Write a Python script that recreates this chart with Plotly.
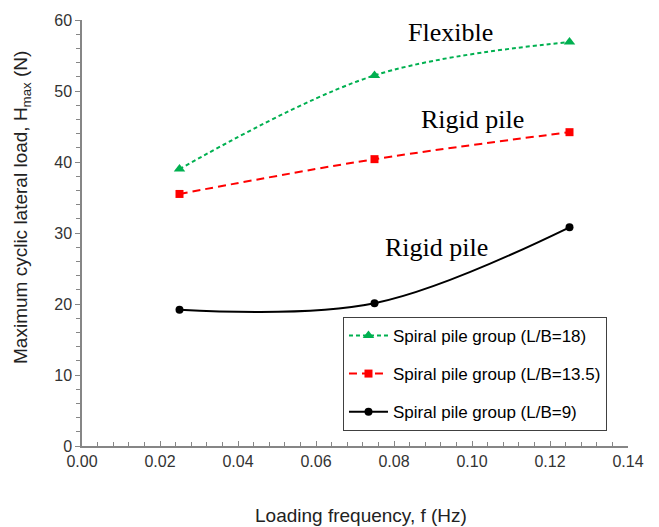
import plotly.graph_objects as go

freq = [0.025, 0.075, 0.125]
load_lb18 = [39.0, 52.2, 56.9]
load_lb135 = [35.5, 40.4, 44.2]
load_lb9 = [19.2, 20.1, 30.8]

names = ["Spiral pile group (L/B=18)", "Spiral pile group (L/B=13.5)", "Spiral pile group (L/B=9)"]
x_title = "Loading frequency, f (Hz)"
y_title = "Maximum cyclic lateral load, H<sub>max</sub> (N)"

fig = go.Figure()
fig.add_trace(go.Scatter(x=freq, y=load_lb18, name=names[0], mode="lines+markers",
                         line=dict(color="#00B050", width=2, dash="4px,3px", shape="spline", smoothing=1),
                         marker=dict(symbol="triangle-up", size=10, color="#00B050"), legendgroup="a"))
fig.add_trace(go.Scatter(x=freq, y=load_lb135, name=names[1], mode="lines+markers",
                         line=dict(color="#FF0000", width=2, dash="8px,5px", shape="spline", smoothing=1),
                         marker=dict(symbol="square", size=8, color="#FF0000"), legendgroup="b"))
fig.add_trace(go.Scatter(x=freq, y=load_lb9, name=names[2], mode="lines+markers",
                         line=dict(color="black", width=2, shape="spline", smoothing=1),
                         marker=dict(symbol="circle", size=8, color="black"), legendgroup="c"))

serif = "Liberation Serif, Times New Roman, serif"
sans = "Liberation Sans, Arial, sans-serif"
for txt, x, y in [("Flexible", 0.0945, 58.2), ("Rigid pile", 0.100, 46.0), ("Rigid pile", 0.091, 27.9)]:
    fig.add_annotation(x=x, y=y, text=txt, showarrow=False, font=dict(family=serif, size=26, color="black"))

fig.add_annotation(xref="paper", yref="paper", x=0.511, y=-0.163, text=x_title, showarrow=False,
                   xanchor="center", yanchor="middle", font=dict(family=sans, size=19, color="#222222"))
fig.add_annotation(xref="paper", yref="paper", x=-0.110, y=0.561, text=y_title, showarrow=False,
                   textangle=-90, xanchor="center", yanchor="middle",
                   font=dict(family=sans, size=19, color="#222222"))

axis_common = dict(showgrid=False, zeroline=False, showline=True, linecolor="#868686", linewidth=1.5,
                   tickcolor="#868686", ticklen=5, tickwidth=1.2,
                   tickfont=dict(family=sans, size=16, color="#333333"))

fig.update_xaxes(range=[0, 0.14], dtick=0.02, tickformat=".2f", ticks="inside",
                 minor=dict(dtick=0.004, ticks="inside", ticklen=4, tickcolor="#868686"),
                 **axis_common)
fig.update_yaxes(range=[0, 60], dtick=10, ticks="outside",
                 minor=dict(dtick=2, ticks="outside", ticklen=4, tickcolor="#868686"),
                 **axis_common)

fig.update_layout(
    width=659, height=527,
    margin=dict(l=82, r=31, t=17, b=81),
    plot_bgcolor="white", paper_bgcolor="white",
    legend=dict(x=0.478, y=0.303, xanchor="left", yanchor="top",
                bordercolor="#404040", borderwidth=1, bgcolor="white",
                font=dict(family=sans, size=17, color="black"),
                tracegroupgap=13, itemwidth=39),
)

fig.write_html("out.html")
